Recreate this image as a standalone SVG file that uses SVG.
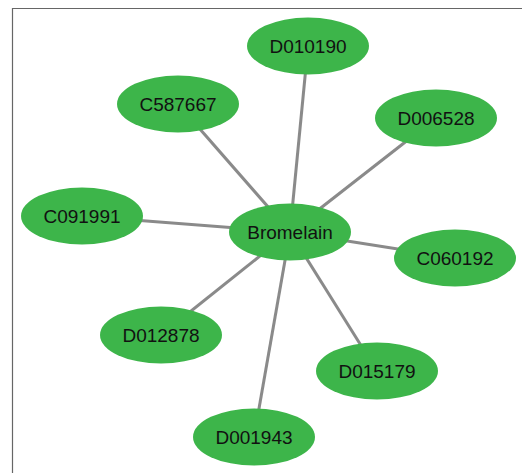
<svg xmlns="http://www.w3.org/2000/svg" width="522" height="473" viewBox="0 0 522 473">
<style>
.edge{stroke:#8a8a8a;stroke-width:3;fill:none}
.node ellipse{fill:#3db54a}
.node text{font-family:"Liberation Sans",Arial,sans-serif;font-size:19px;fill:#111;text-anchor:middle;dominant-baseline:central}
</style>
<rect x="0" y="0" width="522" height="473" fill="#fff"/>
<path d="M12.5 473 V8.5 H522" stroke="#666" stroke-width="1.2" fill="none"/>
<g id="edges">
<line class="edge" x1="290" y1="232" x2="308" y2="46"/>
<line class="edge" x1="290" y1="232" x2="178" y2="104"/>
<line class="edge" x1="290" y1="232" x2="436" y2="118"/>
<line class="edge" x1="290" y1="232" x2="82" y2="216"/>
<line class="edge" x1="290" y1="232" x2="455" y2="258"/>
<line class="edge" x1="290" y1="232" x2="161" y2="335"/>
<line class="edge" x1="290" y1="232" x2="377" y2="371"/>
<line class="edge" x1="290" y1="232" x2="254" y2="437"/>
</g>
<g id="node-D010190" class="node"><ellipse cx="308" cy="46" rx="61" ry="28.5"/><text x="308" y="46">D010190</text></g>
<g id="node-C587667" class="node"><ellipse cx="178" cy="104" rx="61" ry="28.5"/><text x="178" y="104">C587667</text></g>
<g id="node-D006528" class="node"><ellipse cx="436" cy="118" rx="61" ry="28.5"/><text x="436" y="118">D006528</text></g>
<g id="node-C091991" class="node"><ellipse cx="82" cy="216" rx="61" ry="28.5"/><text x="82" y="216">C091991</text></g>
<g id="node-Bromelain" class="node"><ellipse cx="290" cy="232" rx="61" ry="28.5"/><text x="290" y="232">Bromelain</text></g>
<g id="node-C060192" class="node"><ellipse cx="455" cy="258" rx="61" ry="28.5"/><text x="455" y="258">C060192</text></g>
<g id="node-D012878" class="node"><ellipse cx="161" cy="335" rx="61" ry="28.5"/><text x="161" y="335">D012878</text></g>
<g id="node-D015179" class="node"><ellipse cx="377" cy="371" rx="61" ry="28.5"/><text x="377" y="371">D015179</text></g>
<g id="node-D001943" class="node"><ellipse cx="254" cy="437" rx="61" ry="28.5"/><text x="254" y="437">D001943</text></g>
</svg>
